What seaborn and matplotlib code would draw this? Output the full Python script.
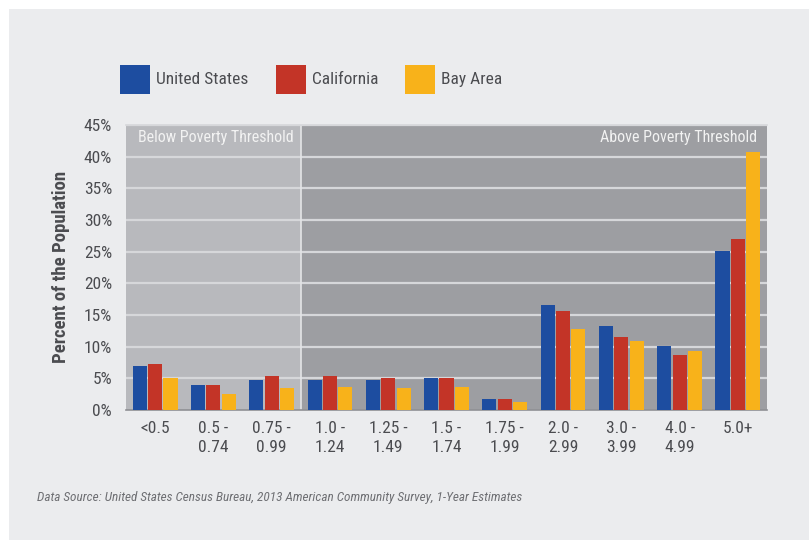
import matplotlib
matplotlib.use("Agg")
import os
import matplotlib.pyplot as plt
import seaborn as sns
import pandas as pd
from matplotlib.patches import Rectangle
from matplotlib import font_manager
from matplotlib.font_manager import FontProperties

categories = ["<0.5", "0.5 -\n0.74", "0.75 -\n0.99", "1.0 -\n1.24", "1.25 -\n1.49",
              "1.5 -\n1.74", "1.75 -\n1.99", "2.0 -\n2.99", "3.0 -\n3.99", "4.0 -\n4.99", "5.0+"]
series_names = ["United States", "California", "Bay Area"]
united_states = [7.0, 4.0, 4.8, 4.8, 4.8, 5.0, 1.8, 16.6, 13.3, 10.1, 25.1]
california = [7.3, 4.0, 5.4, 5.3, 5.1, 5.1, 1.8, 15.6, 11.6, 8.7, 27.0]
bay_area = [5.1, 2.5, 3.5, 3.7, 3.5, 3.7, 1.3, 12.8, 10.9, 9.3, 40.8]
y_ticks = [0, 5, 10, 15, 20, 25, 30, 35, 40, 45]
y_tick_labels = ["0%", "5%", "10%", "15%", "20%", "25%", "30%", "35%", "40%", "45%"]

colors = ["#1D4DA0", "#C33427", "#F8B21A"]
panel_bg = "#EBECEE"
text_col = "#4B4C50"

# ---- pick a condensed face (regular / bold / italic) ----
def wnum(w):
    if isinstance(w, (int, float)):
        return int(w)
    return font_manager.weight_dict.get(str(w).lower(), 400)

def is_cond(f):
    return ("Condensed" in f.name or "Narrow" in f.name or
            str(f.stretch) in ("condensed", "semi-condensed", "75", "87.5", "semi_condensed") or
            "Condensed" in os.path.basename(f.fname) or "Narrow" in os.path.basename(f.fname))

faces = [f for f in font_manager.fontManager.ttflist if is_cond(f)
         and "Extra" not in os.path.basename(f.fname) and "Ultra" not in os.path.basename(f.fname)
         and "SemiCondensed" not in os.path.basename(f.fname)]
prefs = ["Roboto", "Liberation", "Noto Sans", "Open Sans", "Lato", "Inter", "DejaVu"]

def rank(f):
    for i, p in enumerate(prefs):
        if p in f.name:
            return i
    return 99

def find(weight, style):
    c = [f for f in faces if f.style == style and abs(wnum(f.weight) - weight) <= 100
         and "Mono" not in f.name and "Serif" not in f.name]
    c.sort(key=lambda f: (rank(f), abs(wnum(f.weight) - weight)))
    return c[0] if c else None

reg = find(400, "normal")
if reg is not None:
    fam_faces = [f for f in faces if f.name == reg.name]
    def same(weight, style):
        c = [f for f in fam_faces if f.style == style]
        c.sort(key=lambda f: abs(wnum(f.weight) - weight))
        return c[0] if c else reg
    bold = same(700, "normal")
    ital = same(400, "italic")
    fp_reg = lambda s: FontProperties(fname=reg.fname, size=s)
    fp_bold = lambda s: FontProperties(fname=bold.fname, size=s)
    fp_ital = lambda s: FontProperties(fname=ital.fname, size=s)
    scale = 1.0
else:
    fp_reg = lambda s: FontProperties(family="Liberation Sans", size=s)
    fp_bold = lambda s: FontProperties(family="Liberation Sans", weight="bold", size=s)
    fp_ital = lambda s: FontProperties(family="Liberation Sans", style="italic", size=s)
    scale = 0.88

sns.set_theme(style="white")
plt.rcParams["font.family"] = ["DejaVu Sans"]

rows = []
for name, vals in zip(series_names, [united_states, california, bay_area]):
    for c, v in zip(categories, vals):
        rows.append({"cat": c, "val": v, "series": name})
df = pd.DataFrame(rows)

fig = plt.figure(figsize=(8.09, 5.40), dpi=100)
fig.patch.set_facecolor("white")
fig.add_artist(Rectangle((9 / 809, 0), 1, 1 - 9 / 540, transform=fig.transFigure,
                         facecolor=panel_bg, edgecolor="none", zorder=-10))

ax = fig.add_axes([126 / 809, 130 / 540, 641 / 809, 285 / 540])
ax.set_facecolor("#9D9EA2")
ax.axvspan(-0.5, 2.5, color="#B8B9BD", zorder=0, lw=0)
ax.axvspan(2.5, 10.5, color="#9D9EA2", zorder=0, lw=0)
for t in y_ticks[1:]:
    ax.axhline(t, color="#D6D7DA", lw=1.6, zorder=1)
ax.axvline(2.5, color="#E4E5E7", lw=1.2, zorder=1)

sns.barplot(data=df, x="cat", y="val", hue="series", palette=colors, hue_order=series_names,
            order=categories, width=0.79, gap=0.08, saturation=1, ax=ax, zorder=3,
            legend=False, errorbar=None, linewidth=0, edgecolor="none")

fs = 11.5 * scale
ax.set_xlim(-0.5, 10.5)
ax.set_ylim(0, 45)
ax.set_yticks(y_ticks)
ax.set_yticklabels(y_tick_labels, fontproperties=fp_reg(12.5 * scale), color=text_col)
ax.set_xticks(range(len(categories)))
ax.set_xticklabels(categories, fontproperties=fp_reg(12.5 * scale), color=text_col,
                   linespacing=1.3, va="top")
ax.tick_params(axis="both", length=0, pad=8)
ax.tick_params(axis="y", pad=10)
ax.set_xlabel("")
ax.set_ylabel("")
for s in ["right", "left"]:
    ax.spines[s].set_visible(False)
ax.spines["top"].set_color("#D6D7DA")
ax.spines["top"].set_linewidth(1.2)
ax.spines["bottom"].set_color("#8F9094")
ax.spines["bottom"].set_linewidth(1.2)

ax.text(0.018, 0.955, "Below Poverty Threshold", transform=ax.transAxes, ha="left", va="center",
        fontproperties=fp_reg(fs), color="#F2F2F2", zorder=5)
ax.text(0.984, 0.955, "Above Poverty Threshold", transform=ax.transAxes, ha="right", va="center",
        fontproperties=fp_reg(fs), color="#F2F2F2", zorder=5)

fig.text(61 / 809, 1 - 267 / 540, "Percent of the Population", rotation=90, ha="center",
         va="center", fontproperties=fp_bold(13.5 * scale), color=text_col)

# legend
leg_items = [(120, "United States"), (276, "California"), (405, "Bay Area")]
for (x0, lab), col in zip(leg_items, colors):
    fig.add_artist(Rectangle((x0 / 809, 1 - 94 / 540), 30 / 809, 29 / 540,
                             transform=fig.transFigure, facecolor=col, edgecolor="none"))
    fig.text((x0 + 36) / 809, 1 - 79.5 / 540, lab, ha="left", va="center",
             fontproperties=fp_reg(12.5 * scale), color=text_col)

fig.text(37 / 809, 1 - 497 / 540,
         "Data Source: United States Census Bureau, 2013 American Community Survey, 1-Year Estimates",
         ha="left", va="center", fontproperties=fp_ital(9.5 * scale), color="#6E6F73")

fig.savefig("out.png", dpi=100, facecolor=fig.get_facecolor())
